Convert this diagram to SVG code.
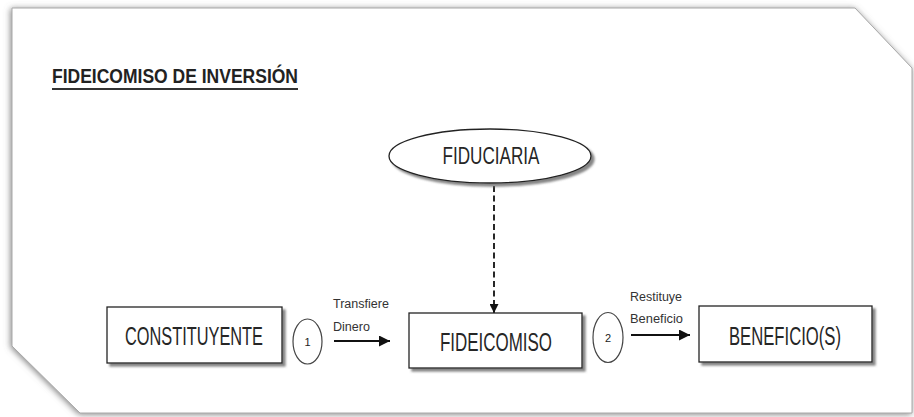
<svg xmlns="http://www.w3.org/2000/svg" width="914" height="417" viewBox="0 0 914 417">
  <defs>
    <!-- soft halo around the snipped page -->
    <filter id="pageShadow" x="-5%" y="-10%" width="110%" height="120%">
      <feGaussianBlur in="SourceAlpha" stdDeviation="3" result="b"/>
      <feOffset in="b" dx="-1" dy="1" result="o"/>
      <feFlood flood-color="#777" flood-opacity="0.9"/>
      <feComposite in2="o" operator="in" result="s"/>
      <feMerge><feMergeNode in="s"/><feMergeNode in="SourceGraphic"/></feMerge>
    </filter>
    <!-- offset shadow under boxes and ellipse -->
    <filter id="boxShadow" x="-10%" y="-20%" width="125%" height="150%">
      <feDropShadow dx="3" dy="3" stdDeviation="1.2" flood-color="#6f6f6f" flood-opacity="0.85"/>
    </filter>
    <marker id="arrow" viewBox="0 0 10 10" refX="10" refY="5" markerWidth="15" markerHeight="11" markerUnits="userSpaceOnUse" orient="auto">
      <path d="M0,0 L10,5 L0,10 Z" fill="#111"/>
    </marker>
    <marker id="arrowSmall" viewBox="0 0 10 10" refX="10" refY="5" markerWidth="10" markerHeight="9" markerUnits="userSpaceOnUse" orient="auto">
      <path d="M0,0 L10,5 L0,10 Z" fill="#111"/>
    </marker>
  </defs>
  <style>
    .box { fill: #ffffff; stroke: #222; stroke-width: 1.3; }
    .label { font-family: "Liberation Sans Narrow", "Liberation Sans", Arial, sans-serif; fill: #262626; text-anchor: middle; }
    .big { font-size: 25px; }
    .small { font-family: "Liberation Sans Narrow", "Liberation Sans", Arial, sans-serif; font-size: 12.5px; fill: #333; }
    .num { font-family: "Liberation Sans Narrow", "Liberation Sans", Arial, sans-serif; font-size: 11px; fill: #222; text-anchor: middle; }
    .conn { stroke: #111; stroke-width: 1.8; fill: none; }
    .step { fill: #fff; stroke: #444; stroke-width: 1.2; }
  </style>

  <rect x="0" y="0" width="914" height="417" fill="#ffffff"/>

  <!-- snipped-corner page -->
  <path d="M12,8 L855,8 L912,68 L912,413 L80,413 L12,346 Z" fill="#ffffff" stroke="#a8a8a8" stroke-width="1" filter="url(#pageShadow)"/>

  <!-- title -->
  <g id="title">
    <text x="52" y="83" font-family="'Liberation Sans Narrow', 'Liberation Sans', Arial, sans-serif" font-size="21" font-weight="bold" fill="#222" textLength="246" lengthAdjust="spacingAndGlyphs">FIDEICOMISO DE INVERSIÓN</text>
    <line x1="52" y1="89" x2="298" y2="89" stroke="#333" stroke-width="2"/>
  </g>

  <!-- connectors -->
  <g id="connectors">
    <line class="conn" x1="494" y1="186" x2="494" y2="313" stroke-dasharray="6,3.5" stroke-width="1.5" marker-end="url(#arrowSmall)"/>
    <line class="conn" x1="334" y1="341" x2="390" y2="341" marker-end="url(#arrow)"/>
    <line class="conn" x1="631" y1="335" x2="690" y2="335" marker-end="url(#arrow)"/>
    <text class="small" x="333" y="308" textLength="56" lengthAdjust="spacingAndGlyphs">Transfiere</text>
    <text class="small" x="333" y="331" textLength="37" lengthAdjust="spacingAndGlyphs">Dinero</text>
    <text class="small" x="630" y="301" textLength="52" lengthAdjust="spacingAndGlyphs">Restituye</text>
    <text class="small" x="630" y="323" textLength="53" lengthAdjust="spacingAndGlyphs">Beneficio</text>
  </g>

  <g id="fiduciaria">
    <ellipse cx="490" cy="156" rx="101" ry="27" class="box" filter="url(#boxShadow)"/>
    <text class="label" x="491" y="164" font-size="24" textLength="97" lengthAdjust="spacingAndGlyphs">FIDUCIARIA</text>
  </g>

  <g id="constituyente">
    <rect x="107" y="307" width="175" height="56" class="box" filter="url(#boxShadow)"/>
    <text class="label big" x="194" y="345" textLength="138" lengthAdjust="spacingAndGlyphs">CONSTITUYENTE</text>
  </g>

  <g id="step1">
    <ellipse cx="307.5" cy="341.5" rx="14.5" ry="22.5" class="step"/>
    <text class="num" x="307.5" y="346">1</text>
  </g>

  <g id="fideicomiso">
    <rect x="409" y="313" width="173" height="55" class="box" filter="url(#boxShadow)"/>
    <text class="label big" x="496" y="351" textLength="112" lengthAdjust="spacingAndGlyphs">FIDEICOMISO</text>
  </g>

  <g id="step2">
    <ellipse cx="608" cy="337.5" rx="15" ry="25" class="step"/>
    <text class="num" x="608" y="342">2</text>
  </g>

  <g id="beneficios">
    <rect x="699" y="306" width="173" height="56" class="box" filter="url(#boxShadow)"/>
    <text class="label big" x="785" y="345" textLength="112" lengthAdjust="spacingAndGlyphs">BENEFICIO(S)</text>
  </g>
</svg>
